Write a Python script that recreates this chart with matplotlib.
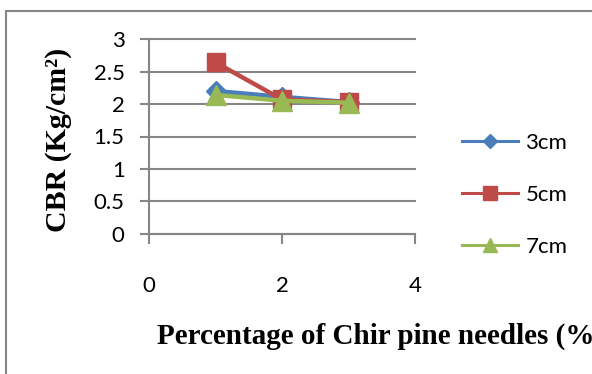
import matplotlib.pyplot as plt
from matplotlib.patches import Rectangle

# CBR values for each needle length
pct = [1, 2, 3]
cbr_3cm = [2.2, 2.11, 2.03]
cbr_5cm = [2.64, 2.07, 2.03]
cbr_7cm = [2.14, 2.05, 2.02]
labels = ['3cm', '5cm', '7cm']
x_ticks = [0, 2, 4]
y_ticks = [0, 0.5, 1, 1.5, 2, 2.5, 3]

W, H = 592, 374
fig = plt.figure(figsize=(W / 100, H / 100), dpi=100)

# outer chart border (only top and left edge fall inside the image)
fig.patches.append(Rectangle((6 / W, -0.2), 1.2, 1.2 - 11 / H,
                             transform=fig.transFigure, fill=False,
                             edgecolor='#868686', linewidth=1.5))

ax = fig.add_axes([149 / W, 1 - 234 / H, (415 - 149) / W, (234 - 39) / H])

grey = '#868686'
tick_font = dict(family='Lato', size=16)

ax.plot(pct, cbr_3cm, color='#4A7EBB', marker='D', ms=10, lw=3.2, label=labels[0])
ax.plot(pct, cbr_5cm, color='#BE4B48', marker='s', ms=13.5, lw=3.2, label=labels[1])
ax.plot(pct, cbr_7cm, color='#98B954', marker='^', ms=14, lw=3.2, label=labels[2])

ax.set_xlim(0, 4)
ax.set_ylim(0, 3)
ax.set_xticks(x_ticks)
ax.set_yticks(y_ticks)
ax.set_xticklabels([str(t) for t in x_ticks], **tick_font)
ax.set_yticklabels(['0', '0.5', '1', '1.5', '2', '2.5', '3'], **tick_font)

ax.yaxis.grid(True, color=grey, linewidth=1.5)
for gl in ax.yaxis.get_gridlines():
    gl.set_clip_on(False)
ax.set_axisbelow(True)

for side in ['top', 'right']:
    ax.spines[side].set_visible(False)
for side in ['left', 'bottom']:
    ax.spines[side].set_color(grey)
    ax.spines[side].set_linewidth(1.5)

ax.tick_params(axis='x', direction='out', length=7, width=1.5, color=grey, pad=23)
ax.tick_params(axis='y', direction='out', length=6.5, width=1.5, color=grey, pad=11)

leg = ax.legend(loc='center left', bbox_to_anchor=(462 / W, 1 - 195 / H),
                bbox_transform=fig.transFigure, frameon=False,
                prop=dict(family='Lato', size=16), handlelength=2.5,
                handletextpad=0.35, labelspacing=1.45, borderpad=0,
                borderaxespad=0, markerscale=0.7)
for line in leg.get_lines():
    line.set_linewidth(2.2)

fig.text(58 / W, 1 - 140 / H, 'CBR (Kg/cm²)', rotation=90,
         ha='center', va='center', family='Liberation Serif',
         fontweight='bold', fontsize=21.5)
fig.text(157 / W, 1 - 336 / H, 'Percentage of Chir pine needles (%)',
         ha='left', va='center', family='Liberation Serif',
         fontweight='bold', fontsize=21)

fig.savefig('out.png', dpi=100)
